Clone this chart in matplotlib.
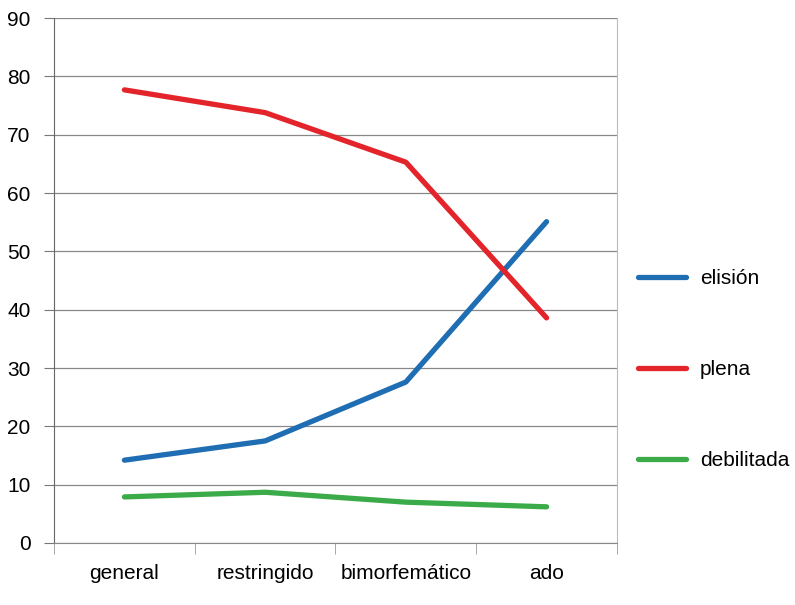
import matplotlib
matplotlib.use('Agg')
import matplotlib.pyplot as plt
import numpy as np

plt.rcParams['font.family'] = ['Liberation Sans', 'DejaVu Sans']

categories = ['general', 'restringido', 'bimorfemático', 'ado']
elision = [14.2, 17.5, 27.6, 55.1]
plena = [77.7, 73.8, 65.3, 38.6]
debilitada = [7.9, 8.7, 7.0, 6.2]

fig = plt.figure(figsize=(7.95, 6.05), dpi=100)
ax = fig.add_axes([0.068, 0.1025, 0.708, 0.8675])

x = np.arange(len(categories))
ax.plot(x, elision, color='#1f6db3', lw=3.8, solid_capstyle='round', label='elisión')
ax.plot(x, plena, color='#e3242b', lw=3.8, solid_capstyle='round', label='plena')
ax.plot(x, debilitada, color='#3aab48', lw=3.8, solid_capstyle='round', label='debilitada')

ax.set_xlim(-0.5, len(categories) - 0.5)
ax.set_ylim(0, 90)
ax.set_yticks(np.arange(0, 91, 10))
ax.set_xticks(x)
ax.set_xticklabels(categories)
ax.set_xticks(np.arange(-0.5, len(categories), 1), minor=True)
ax.tick_params(axis='x', which='major', length=0, pad=15, labelsize=15)
ax.tick_params(axis='x', which='minor', length=8, color='#999999')
ax.tick_params(axis='y', length=7, color='#777777', labelsize=15, pad=10)
ax.grid(axis='y', color='#888888', lw=0.9)
ax.set_axisbelow(True)
ax.spines['top'].set_visible(False)
ax.spines['right'].set_color('#bbbbbb')
ax.spines['left'].set_color('#666666')
ax.spines['bottom'].set_color('#888888')

ax.legend(loc='center left', bbox_to_anchor=(1.005, 0.33), frameon=False,
          fontsize=15, handlelength=2.3, handletextpad=0.65, labelspacing=3.45)

fig.savefig('out.png', dpi=100)
